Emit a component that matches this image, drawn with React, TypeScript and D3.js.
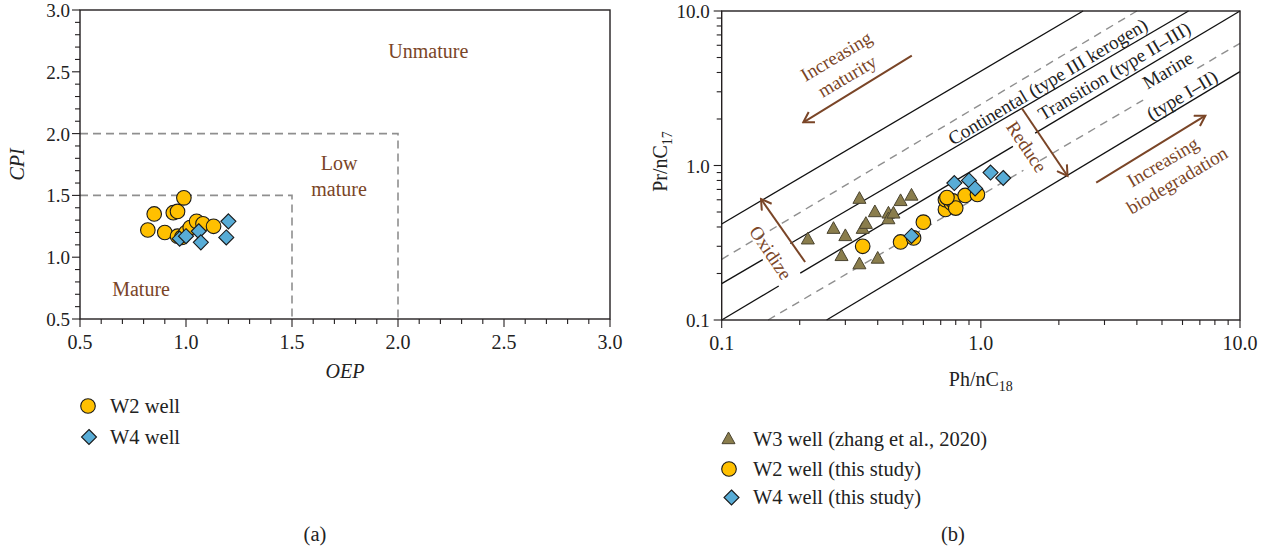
import * as d3 from "d3";

// ---- panel (a): OEP vs CPI ----
const W2_OEP = [0.82, 0.85, 0.9, 0.94, 0.96, 0.99, 0.96, 0.98, 1.0, 1.02, 1.05, 1.08, 1.13];
const W2_CPI = [1.22, 1.35, 1.2, 1.36, 1.37, 1.48, 1.17, 1.16, 1.2, 1.24, 1.29, 1.27, 1.25];
const W4_OEP = [0.97, 1.0, 1.06, 1.07, 1.2, 1.19];
const W4_CPI = [1.15, 1.17, 1.21, 1.12, 1.29, 1.16];
const A_TICKS = [0.5, 1.0, 1.5, 2.0, 2.5, 3.0];
const A_ZONES = [2.0, 1.5]; // dashed boxes: OEP <= v and CPI <= v

// ---- panel (b): Ph/nC18 vs Pr/nC17 ----
const W3_PH = [0.215, 0.27, 0.3, 0.29, 0.34, 0.34, 0.35, 0.36, 0.39, 0.4, 0.44, 0.44, 0.46, 0.49, 0.54];
const W3_PR = [0.333, 0.39, 0.35, 0.26, 0.61, 0.23, 0.39, 0.42, 0.5, 0.25, 0.49, 0.45, 0.49, 0.59, 0.64];
const W2_PH = [0.35, 0.49, 0.55, 0.6, 0.73, 0.73, 0.77, 0.78, 0.8, 0.87, 0.97, 0.74];
const W2_PR = [0.3, 0.32, 0.34, 0.43, 0.52, 0.6, 0.57, 0.59, 0.53, 0.64, 0.65, 0.62];
const W4_PH = [0.54, 0.79, 0.9, 0.95, 1.09, 1.22];
const W4_PR = [0.35, 0.77, 0.8, 0.71, 0.9, 0.83];
const B_TICKS = [0.1, 1, 10];
const B_TICK_LABELS = ["0.1", "1.0", "10.0"];

// boundary lines: endpoints, gaps where labels sit
const B_LINES = [
  { x0: 0.1, y0: 0.418, x1: 2.48, y1: 10, dash: false, gaps: [] },
  { x0: 0.1, y0: 0.247, x1: 4.0, y1: 10, dash: true, gaps: [] },
  { x0: 0.1, y0: 0.172, x1: 6.33, y1: 10, dash: false, gaps: [[0.144, 0.184]] },
  { x0: 0.1, y0: 0.1, x1: 10, y1: 10, dash: false, gaps: [[0.166, 0.201], [1.33, 1.62]] },
  { x0: 0.151, y0: 0.1, x1: 10, y1: 6.18, dash: true, gaps: [[1.46, 1.69], [4.23, 6.84]] },
  { x0: 0.254, y0: 0.1, x1: 10, y1: 4.05, dash: false, gaps: [] },
];

const B_ARROWS = [
  { from: [0.5415, 5.14], to: [0.2065, 1.904] },
  { from: [2.787, 0.774], to: [7.35, 2.1] },
  { from: [0.2098, 0.2373], to: [0.1418, 0.607] },
  { from: [1.439, 2.346], to: [2.16, 0.855] },
];

const B_LINE_LABELS = [
  { text: "Continental (type III kerogen)", x: 1.81, y: 3.5 },
  { text: "Transition (type II\u2013III)", x: 3.27, y: 4.09 },
  { text: "Marine", x: 5.26, y: 4.15 },
  { text: "(type I\u2013II)", x: 5.97, y: 2.86 },
];
const B_NOTES = [
  { text: "Increasing", x: 0.2763, y: 5.11, rot: "line" },
  { text: "maturity", x: 0.3046, y: 3.8, rot: "line" },
  { text: "Increasing", x: 5.03, y: 1.058, rot: "line" },
  { text: "biodegradation", x: 5.71, y: 0.806, rot: "line" },
  { text: "Oxidize", x: 0.1547, y: 0.2735, rot: "perp" },
  { text: "Reduce", x: 1.505, y: 1.323, rot: "perp" },
];

const FONT = "'Liberation Serif', 'Times New Roman', serif";
const BROWN = "#7a4527";
const AXIS = "#231f20";
const DASH = "#8f8f8f";
const YELLOW = "#ffc000";
const BLUE = "#58acd6";
const OLIVE = "#8a7d4c";

const xA = d3.scaleLinear().domain([0.5, 3]).range([80, 610]);
const yA = d3.scaleLinear().domain([0.5, 3]).range([319, 10]);
const xB = d3.scaleLog().domain([0.1, 10]).range([721.7, 1240]);
const yB = d3.scaleLog().domain([0.1, 10]).range([320, 11]);

const LINE_ANGLE = (-Math.atan((320 - 11) / 2 / ((1240 - 721.7) / 2)) * 180) / Math.PI;

function diamond(cx: number, cy: number, r: number) {
  return `M${cx},${cy - r}L${cx + r},${cy}L${cx},${cy + r}L${cx - r},${cy}Z`;
}
function triangle(cx: number, cy: number, s: number) {
  const h = s * 0.9;
  return `M${cx},${cy - h * 0.6}L${cx + s / 2},${cy + h * 0.4}L${cx - s / 2},${cy + h * 0.4}Z`;
}

function Circle({ x, y }: { x: number; y: number }) {
  return <circle cx={x} cy={y} r={7.3} fill={YELLOW} stroke="#1a1a1a" strokeWidth={1.1} />;
}
function Diamond({ x, y }: { x: number; y: number }) {
  return <path d={diamond(x, y, 7.5)} fill={BLUE} stroke="#1a1a1a" strokeWidth={1.1} />;
}
function Triangle({ x, y }: { x: number; y: number }) {
  return <path d={triangle(x, y, 13)} fill={OLIVE} stroke="#4a4430" strokeWidth={1} />;
}

function lineSegments(l: (typeof B_LINES)[number]) {
  const lx0 = Math.log10(l.x0), ly0 = Math.log10(l.y0);
  const slope = (Math.log10(l.y1) - ly0) / (Math.log10(l.x1) - lx0);
  const yAt = (x: number) => Math.pow(10, ly0 + (Math.log10(x) - lx0) * slope);
  const cuts = [l.x0, ...l.gaps.flat(), l.x1];
  const segs = [];
  for (let i = 0; i < cuts.length; i += 2) {
    segs.push([cuts[i], yAt(cuts[i]), cuts[i + 1], yAt(cuts[i + 1])]);
  }
  return segs;
}

function PanelA() {
  const minor = d3.range(5, 31).map((v) => v / 10);
  const bottom = yA.range()[0];
  const left = xA.range()[0];
  return (
    <g>
      {A_ZONES.map((v) => (
        <path
          key={v}
          d={`M${xA(0.5)},${yA(v)}H${xA(v)}V${yA(0.5)}`}
          fill="none"
          stroke={DASH}
          strokeWidth={1.6}
          strokeDasharray="8 5"
        />
      ))}
      <rect x={left} y={yA(3)} width={xA(3) - left} height={bottom - yA(3)} fill="none" stroke={AXIS} strokeWidth={1.4} />
      {minor.map((v) => {
        const major = A_TICKS.some((t) => Math.abs(t - v) < 1e-6);
        const len = major ? 8 : 5;
        return (
          <g key={v} stroke={AXIS} strokeWidth={1.1}>
            <line x1={xA(v)} x2={xA(v)} y1={bottom} y2={bottom + len} />
            <line x1={left} x2={left - len} y1={yA(v)} y2={yA(v)} />
          </g>
        );
      })}
      {A_TICKS.map((t) => (
        <g key={t} fontFamily={FONT} fill="#222">
          <text x={xA(t)} y={bottom + 30} textAnchor="middle" fontSize={20}>{t.toFixed(1)}</text>
          <text x={left - 10} y={yA(t) + 7} textAnchor="end" fontSize={19}>{t.toFixed(1)}</text>
        </g>
      ))}
      <text x={xA(1.75)} y={378} textAnchor="middle" fontFamily={FONT} fontSize={20} fontStyle="italic" fill="#222">OEP</text>
      <text transform={`translate(24 ${yA(1.75)}) rotate(-90)`} textAnchor="middle" fontFamily={FONT} fontSize={20} fontStyle="italic" fill="#222">CPI</text>

      <g fontFamily={FONT} fontSize={20} fill={BROWN} textAnchor="middle">
        <text x={xA(2.143)} y={yA(2.668) + 7}>Unmature</text>
        <text x={xA(1.722)} y={yA(1.762) + 7}>Low</text>
        <text x={xA(1.722)} y={yA(1.552) + 7}>mature</text>
        <text x={xA(0.788)} y={yA(0.743) + 7}>Mature</text>
      </g>

      {W2_OEP.map((v, i) => <Circle key={`c${i}`} x={xA(v)} y={yA(W2_CPI[i])} />)}
      {W4_OEP.map((v, i) => <Diamond key={`d${i}`} x={xA(v)} y={yA(W4_CPI[i])} />)}

      <Circle x={88} y={406} />
      <Diamond x={89} y={437} />
      <g fontFamily={FONT} fontSize={20.5} fill="#222">
        <text x={110} y={413}>W2 well</text>
        <text x={110} y={444}>W4 well</text>
        <text x={315} y={541} textAnchor="middle">(a)</text>
      </g>
    </g>
  );
}

function PanelB() {
  const bottom = yB.range()[0];
  const left = xB.range()[0];
  const minor = [0.1, 1].flatMap((d) => d3.range(2, 10).map((k) => d * k));
  return (
    <g>
      <defs>
        <marker id="head" viewBox="-12 -7 14 14" markerWidth={14} markerHeight={14} refX={0} refY={0} orient="auto" markerUnits="userSpaceOnUse">
          <path d="M-10,-6L0,0L-10,6" fill="none" stroke={BROWN} strokeWidth={2} />
        </marker>
      </defs>
      {B_LINES.map((l, i) =>
        lineSegments(l).map((s, j) => (
          <line
            key={`${i}-${j}`}
            x1={xB(s[0])}
            y1={yB(s[1])}
            x2={xB(s[2])}
            y2={yB(s[3])}
            stroke={l.dash ? DASH : "#111"}
            strokeWidth={l.dash ? 1.4 : 1.3}
            strokeDasharray={l.dash ? "8 6" : undefined}
          />
        ))
      )}
      <rect x={left} y={yB(10)} width={xB(10) - left} height={bottom - yB(10)} fill="none" stroke={AXIS} strokeWidth={1.4} />
      {B_TICKS.map((t) => (
        <g key={t} stroke={AXIS} strokeWidth={1.1}>
          <line x1={xB(t)} x2={xB(t)} y1={bottom} y2={bottom + 8} />
          <line x1={left} x2={left - 8} y1={yB(t)} y2={yB(t)} />
        </g>
      ))}
      {minor.map((v) => (
        <g key={v} stroke={AXIS} strokeWidth={1.1}>
          <line x1={xB(v)} x2={xB(v)} y1={bottom} y2={bottom + 5} />
          <line x1={left} x2={left - 5} y1={yB(v)} y2={yB(v)} />
        </g>
      ))}
      {B_TICKS.map((t, i) => (
        <g key={t} fontFamily={FONT} fill="#222">
          <text x={xB(t)} y={bottom + 30} textAnchor="middle" fontSize={20}>{B_TICK_LABELS[i]}</text>
          <text x={left - 12} y={yB(t) + 7} textAnchor="end" fontSize={19}>{B_TICK_LABELS[i]}</text>
        </g>
      ))}
      <text x={xB(1)} y={386} textAnchor="middle" fontFamily={FONT} fontSize={20} fill="#222">
        Ph/nC<tspan dy={5} fontSize={14}>18</tspan>
      </text>
      <text transform={`translate(667 ${yB(1) - 4}) rotate(-90)`} textAnchor="middle" fontFamily={FONT} fontSize={20} fill="#222">
        Pr/nC<tspan dy={5} fontSize={14}>17</tspan>
      </text>

      {B_LINE_LABELS.map((l, i) => (
        <text
          key={i}
          transform={`translate(${xB(l.x)} ${yB(l.y)}) rotate(${LINE_ANGLE})`}
          dy="0.35em"
          textAnchor="middle"
          fontFamily={FONT}
          fontSize={19}
          fill="#222"
        >
          {l.text}
        </text>
      ))}
      {B_NOTES.map((n, i) => (
        <text
          key={i}
          transform={`translate(${xB(n.x)} ${yB(n.y)}) rotate(${n.rot === "line" ? LINE_ANGLE : 56})`}
          dy="0.35em"
          textAnchor="middle"
          fontFamily={FONT}
          fontSize={19}
          fill={BROWN}
        >
          {n.text}
        </text>
      ))}
      {B_ARROWS.map((a, i) => (
        <line
          key={i}
          x1={xB(a.from[0])}
          y1={yB(a.from[1])}
          x2={xB(a.to[0])}
          y2={yB(a.to[1])}
          stroke={BROWN}
          strokeWidth={2}
          markerEnd="url(#head)"
        />
      ))}

      {W3_PH.map((v, i) => <Triangle key={`t${i}`} x={xB(v)} y={yB(W3_PR[i])} />)}
      {W2_PH.map((v, i) => <Circle key={`c${i}`} x={xB(v)} y={yB(W2_PR[i])} />)}
      {W4_PH.map((v, i) => <Diamond key={`d${i}`} x={xB(v)} y={yB(W4_PR[i])} />)}

      <Triangle x={728.5} y={439} />
      <Circle x={729} y={469} />
      <Diamond x={731.5} y={497.5} />
      <g fontFamily={FONT} fontSize={20.5} fill="#222">
        <text x={753} y={446}>W3 well (zhang et al., 2020)</text>
        <text x={753} y={476}>W2 well (this study)</text>
        <text x={753} y={504}>W4 well (this study)</text>
        <text x={953} y={541} textAnchor="middle">(b)</text>
      </g>
    </g>
  );
}

export default function App() {
  return (
    <svg
      width={1271}
      height={554}
      viewBox="0 0 1271 554"
      style={{ position: "absolute", left: 0, top: 0, background: "#fff" }}
    >
      <PanelA />
      <PanelB />
    </svg>
  );
}
